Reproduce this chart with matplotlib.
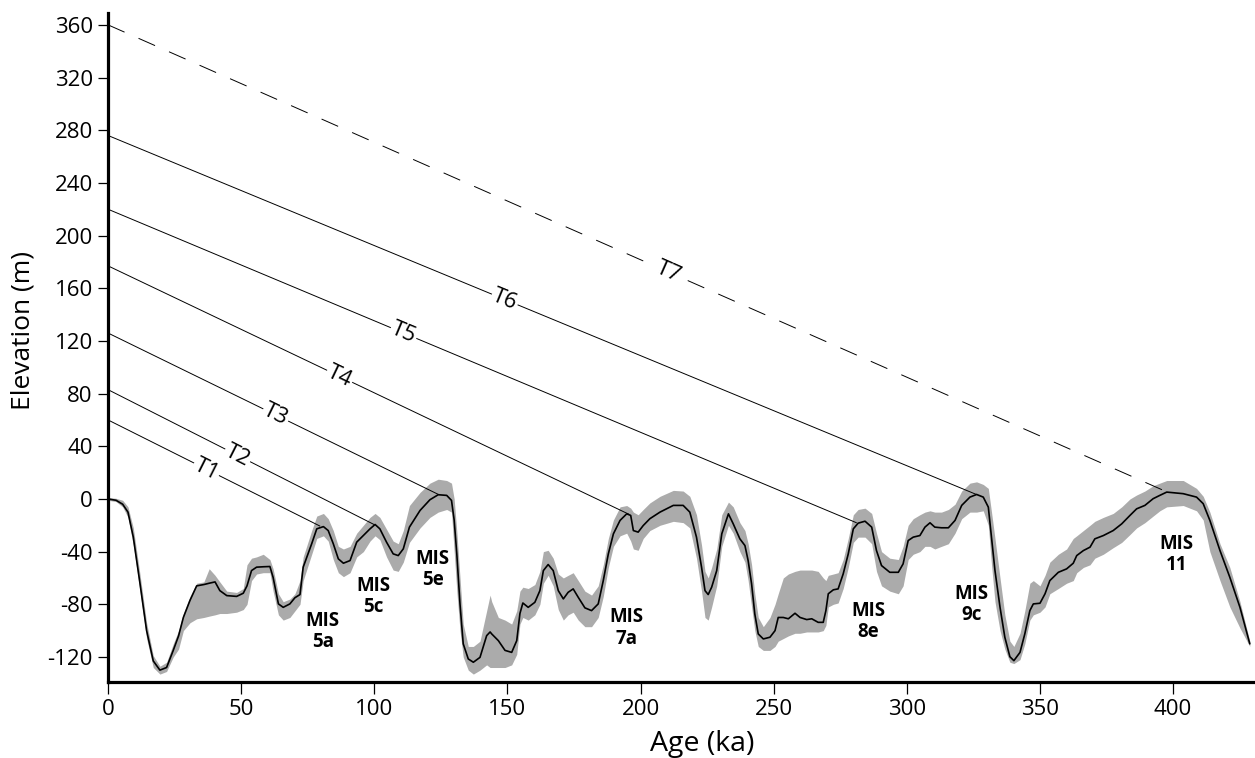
import numpy as np
import matplotlib
matplotlib.use("Agg")
import matplotlib.pyplot as plt

plt.rcParams['font.family'] = ['Open Sans', 'DejaVu Sans']
plt.rcParams['axes.unicode_minus'] = False

# ---- sea-level curve (age ka, mean m, lower band, upper band) ----
age = [0, 3, 5.5, 7.5, 9.5, 12, 14.5, 17, 19.5, 22, 24.5, 26.5, 28.3, 30.8, 33.3, 36, 38, 40.2, 42,
       44.6, 48.3, 50.8, 52.2, 53.9, 55.8, 58.3, 60.8, 62, 64, 65.8, 68.3, 70.2, 72.1, 73.3, 76.5,
       78.4, 80.9, 82.7, 84.6, 86.5, 88.4, 90.9, 93.4, 95.9, 98.4, 100.3, 102.1, 104.6, 107.1, 109,
       110.9, 113.2, 117.2, 120.9, 124, 127.2, 129, 130, 131, 132.2, 133.4, 135.3, 137.2, 139.7,
       142.2, 143.5, 144.1, 146.6, 149.1, 151.6, 153.5, 154.7, 155.8, 157.8, 160.3, 162.2, 163.5,
       165.3, 167.2, 169.1, 171, 172.8, 174.7, 176.6, 179.1, 181.6, 184.1, 186, 187.9, 189.8, 192.3,
       194.8, 196.3, 197.3, 199.1, 201, 203.5, 207.3, 212.3, 216, 218.5, 221, 222.9, 224.2, 225.4,
       226.7, 228.6, 230.5, 233, 234.8, 237.3, 239.2, 240.4, 241.7, 242.9, 244.2, 246.1, 248.6,
       250.5, 251.7, 253.6, 255.5, 258, 259.9, 262.4, 264.3, 266.7, 268.6, 269.6, 270.5, 272.4,
       274.2, 276.1, 278, 279.9, 281.7, 284.3, 286.8, 288.6, 290.5, 293.6, 296.8, 298.6, 300.5,
       302.4, 304.9, 306.8, 308.7, 310.5, 313, 315.6, 318.1, 320.6, 323.7, 326.2, 328.7, 330.6,
       331.8, 333.1, 335, 336.8, 338.7, 340.2, 342.5, 344.3, 346.2, 347.5, 350, 351.9, 353.7,
       356.9, 360, 362.5, 363.8, 366.3, 368.8, 370.6, 373.8, 377.5, 380.7, 383.8, 386.3, 389.4,
       392.5, 395, 397.6, 403.8, 408.8, 411.3, 413.8, 417.6, 421.3, 425.1, 428.8]
sea_level = [0, -1, -4, -10, -29, -64, -100, -123, -130, -128, -115, -104, -90, -77, -66, -65, -64,
             -63, -69.6, -73.4, -74, -71.6, -66, -54.4, -51.8, -51.5, -51.3, -59.5, -79.7, -82.3,
             -79.7, -75, -72.6, -51.8, -34, -22.7, -21, -24, -34, -45.5, -48.8, -46.8, -32.8, -27.8,
             -22.7, -19.4, -22.7, -32.8, -41.7, -43, -37.9, -21.4, -8.7, -0.6, 3.2, 2.7, -1.1, -16,
             -42, -80, -110, -121.5, -124, -120.3, -103.8, -101, -102.5, -107.6, -115, -116.5,
             -107.6, -87, -79, -82.3, -78.5, -69.6, -54.4, -49.8, -54.4, -69.6, -75.9, -70.9, -68.3,
             -74.7, -82.7, -84.8, -79.7, -62, -41.7, -26.5, -16.3, -11.3, -12.5, -24, -25.2, -20.2,
             -15, -10, -4.9, -4.9, -10, -29, -51.8, -69.6, -72.6, -67, -54.4, -26.5, -11.3, -18.9,
             -30.3, -35.4, -46.8, -64.5, -87.3, -102.5, -106.3, -105, -100, -90, -90, -91, -86.8,
             -90, -91.6, -91, -93.7, -93.7, -84.8, -72, -69, -68.3, -56.9, -41.7, -22.7, -18.4,
             -16.9, -21.4, -39.2, -50.6, -55.7, -55.7, -49.3, -31.6, -29, -27.8, -21.4, -18.1,
             -21.4, -21.9, -21.9, -16.3, -4.9, 1.4, 3.4, 1.4, -6.2, -29, -54.4, -82.3, -105, -119.8,
             -122.8, -116.5, -102.5, -84.8, -79.7, -79.2, -72, -62, -55.7, -53.1, -48.8, -43, -39.2,
             -36.6, -30.3, -27.8, -24, -18.9, -12.5, -7.5, -4.9, 0.2, 2.7, 5.2, 4, 1.4, -3.6, -16.3,
             -39.2, -59.5, -82.3, -110]
band_low = [-1, -2, -6, -14, -35, -70, -106, -128, -133, -131, -120, -114, -100, -94, -91, -90, -89,
            -88, -87, -87, -86, -84, -80, -62, -57, -56, -56, -70, -88, -92, -90, -85, -80, -62,
            -42, -30, -28, -32, -46, -56, -59, -56, -44, -40, -32, -28, -31, -44, -54, -55, -48,
            -33, -22, -14, -10, -8, -10, -40, -70, -100, -120, -130, -133, -130, -126, -128, -128,
            -128, -128, -126, -118, -95, -90, -92, -88, -80, -64, -58, -66, -84, -92, -88, -86,
            -92, -97, -97, -90, -74, -52, -36, -28, -26, -32, -38, -39, -30, -24, -20, -17, -18,
            -22, -45, -70, -90, -92, -82, -66, -36, -20, -26, -40, -48, -62, -82, -100, -112,
            -115, -115, -112, -108, -106, -104, -102, -102, -101, -101, -101, -100, -96, -82, -80,
            -79, -68, -52, -33, -29, -29, -34, -55, -66, -70, -72, -66, -46, -42, -40, -36, -36,
            -38, -36, -34, -26, -15, -10, -10, -9, -20, -50, -78, -100, -114, -124, -125, -122,
            -110, -92, -88, -86, -82, -72, -68, -64, -62, -56, -52, -50, -45, -42, -37, -33, -27,
            -22, -18, -13, -9, -6, -5, -9, -16, -40, -62, -82, -98, -112]
band_high = [1, 0.5, -1, -6, -22, -57, -94, -119, -127, -124, -110, -100, -87, -74, -64, -63, -53,
             -58, -63, -70, -71, -68, -50, -45, -44, -42, -46, -53, -72, -78, -76, -72, -62, -44,
             -24, -13, -11, -15, -24, -36, -38, -36, -26, -20, -14, -11, -14, -23, -32, -34, -24,
             -5, 5, 12, 15, 14, 12, 0, -25, -60, -95, -112, -112, -108, -85, -73, -78, -90, -92,
             -95, -85, -70, -67, -68, -65, -55, -40, -39, -45, -57, -60, -58, -56, -62, -70, -73,
             -66, -50, -30, -16, -6, -5, -7, -10, -12, -8, -3, 2, 6.5, 6, 2, -12, -35, -55, -60,
             -52, -38, -12, -2.4, -6, -18, -24, -34, -50, -72, -90, -97, -90, -80, -72, -60, -57,
             -55, -54, -54, -54, -55, -60, -62, -58, -57, -56, -46, -30, -12, -8, -7, -11, -26,
             -40, -45, -46, -36, -20, -15, -12, -10, -9, -10, -10, -8, -4, 6, 12, 13, 11, 8, -10,
             -30, -60, -88, -108, -112, -102, -85, -64, -62, -66, -58, -48, -42, -38, -30, -28,
             -24, -20, -17, -14, -11, -6, 0, 3, 6, 10, 12, 14, 14, 8, 2, -10, -34, -52, -78, -108]

# ---- terrace correlation lines ----
terrace_names = ["T1", "T2", "T3", "T4", "T5", "T6", "T7"]
terrace_start_elev = [60, 83, 126, 177, 220, 276, 360]
terrace_end_age = [79.5, 100, 124, 195.5, 281, 326, 397.5]
terrace_end_elev = [-20.5, -19.5, 3.5, -11.5, -18, 3.5, 5.5]
terrace_label_age = [37, 48.7, 63, 87, 111, 149, 210.5]

# ---- MIS highstand labels ----
mis_labels = ["MIS\n5a", "MIS\n5c", "MIS\n5e", "MIS\n7a", "MIS\n8e", "MIS\n9c", "MIS\n11"]
mis_age = [80.7, 99.6, 121.9, 194.8, 285.5, 324.3, 401.3]
mis_elev = [-100.5, -74, -53.6, -98, -93, -80, -42.2]

xticks = [0, 50, 100, 150, 200, 250, 300, 350, 400]
yticks = list(range(-120, 361, 40))

fig = plt.figure(figsize=(12.55, 7.58), dpi=100)
ax = fig.add_axes([108/1255, 1 - 682/758, 1145/1255, 669/758])
ax.set_xlim(0, 430)
ax.set_ylim(-139, 369)

ax.fill_between(age, band_low, band_high, color='#ababab', lw=0, zorder=1)
ax.plot(age, sea_level, color='black', lw=1.2, zorder=3,
        solid_joinstyle='round', solid_capstyle='round')

for i, name in enumerate(terrace_names):
    xs = [0, terrace_end_age[i]]
    ys = [terrace_start_elev[i], terrace_end_elev[i]]
    if name == "T7":
        ax.plot(xs, ys, color='black', lw=0.7, dashes=(18.6, 15.7), zorder=2)
    else:
        ax.plot(xs, ys, color='black', lw=0.7, zorder=2)
    lx = terrace_label_age[i]
    ly = np.interp(lx, xs, ys)
    p0 = ax.transData.transform((xs[0], ys[0]))
    p1 = ax.transData.transform((xs[1], ys[1]))
    ang = np.degrees(np.arctan2(p1[1] - p0[1], p1[0] - p0[0]))
    ax.text(lx, ly, name, rotation=ang, rotation_mode='anchor', ha='center', va='center',
            fontsize=16, zorder=5,
            bbox=dict(facecolor='white', edgecolor='none', pad=1.0))

for lab, x, y in zip(mis_labels, mis_age, mis_elev):
    ax.text(x, y, lab, ha='center', va='center', fontsize=13.5, fontweight='bold',
            linespacing=1.1, zorder=6)

ax.spines['top'].set_visible(False)
ax.spines['right'].set_visible(False)
ax.spines['left'].set_linewidth(2.3)
ax.spines['bottom'].set_linewidth(2.3)

ax.set_xticks(xticks)
ax.set_xticklabels([str(t) for t in xticks])
ax.set_yticks(yticks)
ax.set_yticklabels([str(t) for t in yticks])
ax.tick_params(axis='y', length=7, width=0.9, pad=4, labelsize=16)
ax.tick_params(axis='x', length=8.5, width=0.9, pad=4, labelsize=16)

ax.set_ylabel("Elevation (m)", fontsize=19)
ax.yaxis.set_label_coords(-0.074, 0.525)
ax.yaxis.label.set_va('center')
ax.set_xlabel("Age (ka)", fontsize=20.5)
ax.xaxis.set_label_coords(0.519, -0.093)
ax.xaxis.label.set_va('center')

fig.savefig("out.png", dpi=100)
